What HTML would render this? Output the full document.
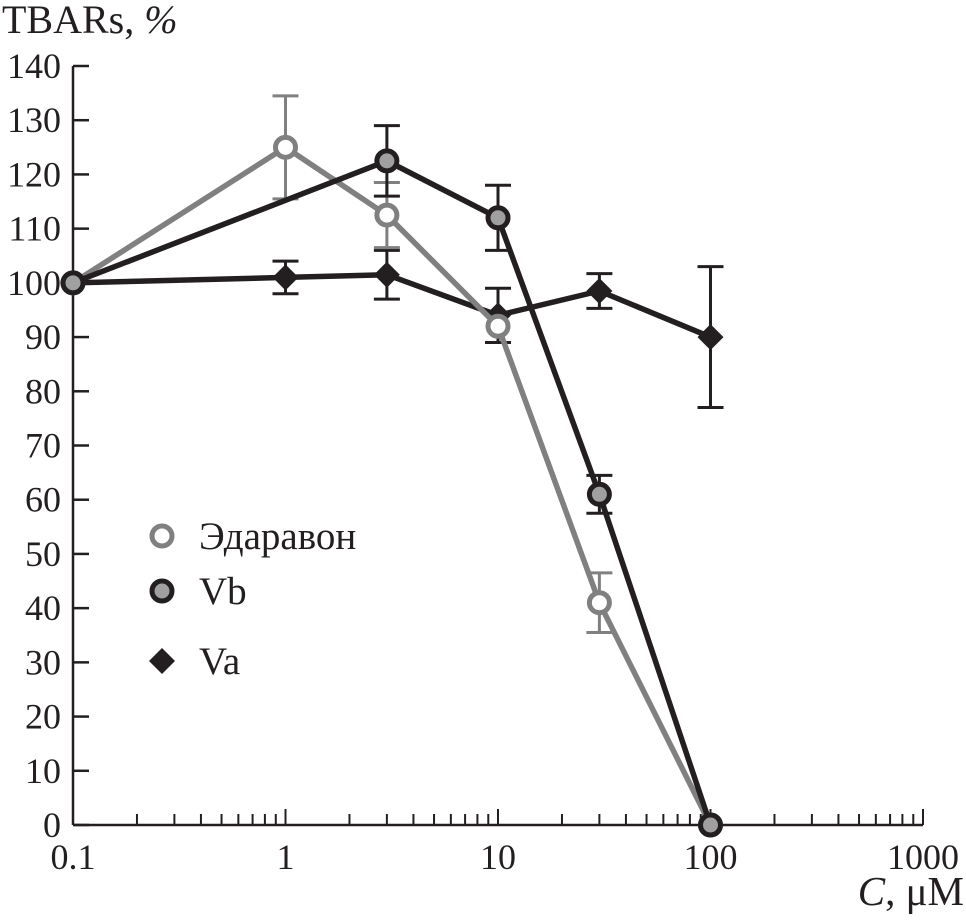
<!DOCTYPE html>
<html><head><meta charset="utf-8">
<style>
html,body{margin:0;padding:0;background:#fff;}
svg{display:block;font-family:"Liberation Serif",serif;}
</style></head>
<body>
<svg id="chart" width="966" height="923" viewBox="0 0 966 923" xmlns="http://www.w3.org/2000/svg"></svg>
<script>
const conc = [0.1, 1, 3, 10, 30, 100];
const edaravon = [100, 125, 112.5, 92, 41, 0];
const edaravonErr = [0, 9.5, 6, 0, 5.5, 0];
const vbConc = [0.1, 3, 10, 30, 100];
const vb = [100, 122.5, 112, 61, 0];
const vbErr = [0, 6.5, 6, 3.5, 0];
const va = [100, 101, 101.5, 94, 98.5, 90];
const vaErr = [0, 3, 4.5, 5, 3.2, 13];
const yTicks = [0,10,20,30,40,50,60,70,80,90,100,110,120,130,140];
const xTickLabels = ["0.1","1","10","100","1000"];
const xTickVals = [0.1,1,10,100,1000];

const NS="http://www.w3.org/2000/svg";
const svg=document.getElementById('chart');
const X0=73, DEC=212.5, Y0=825, YS=759/140;
const xs=v=>X0+DEC*Math.log10(v/0.1);
const ys=v=>Y0-v*YS;
function el(tag,attrs,parent){const e=document.createElementNS(NS,tag);for(const k in attrs)e.setAttribute(k,attrs[k]);(parent||svg).appendChild(e);return e;}

const axes=el('g',{});


const ya=el('line',{x1:X0,y1:ys(140),x2:X0,y2:Y0,stroke:'#231f20','stroke-width':2.5},axes);


const xa=el('line',{x1:X0,y1:Y0,x2:xs(1000),y2:Y0,stroke:'#231f20','stroke-width':2.5},axes);


yTicks.forEach(t=>{
  el('line',{x1:X0,y1:ys(t),x2:X0+16,y2:ys(t),stroke:'#231f20','stroke-width':2.5},axes);
  const tx=el('text',{x:X0-12,y:ys(t)+12,'text-anchor':'end','font-size':36,fill:'#231f20'},axes);
  tx.textContent=t;
  
  
});
for(let d=0;d<4;d++){for(let m=2;m<=10;m++){
  const v=0.1*Math.pow(10,d)*m;
  el('line',{x1:xs(v),y1:Y0,x2:xs(v),y2:Y0-(m===10?16:11),stroke:'#231f20','stroke-width':2},axes);
}}
xTickVals.forEach((v,i)=>{
  const tx=el('text',{x:xs(v),y:Y0+44,'text-anchor':'middle','font-size':36,fill:'#231f20'},axes);
  tx.textContent=xTickLabels[i];
  
  
});
const yt=el('text',{x:2,y:33,'font-size':40,fill:'#231f20'});
yt.innerHTML='TBARs, <tspan font-style="italic">%</tspan>';


const xt=el('text',{x:964,y:905,'text-anchor':'end','font-size':41,fill:'#231f20'});
xt.innerHTML='<tspan font-style="italic">C</tspan>, μM';



function series(name,cx,vals,errs,color,marker){
  const g=el('g',{});
  
  
  el('polyline',{points:cx.map((c,i)=>xs(c)+','+ys(vals[i])).join(' '),fill:'none',stroke:color,'stroke-width':5.5,'stroke-linejoin':'round'},g);
  cx.forEach((c,i)=>{
    if(errs[i]>0){
      const x=xs(c),y1=ys(vals[i]+errs[i]),y2=ys(vals[i]-errs[i]);
      const eg=el('g',{stroke:color,'stroke-width':3},g);
      
      
      el('line',{x1:x,y1:y1,x2:x,y2:y2},eg);
      el('line',{x1:x-13,y1:y1,x2:x+13,y2:y1},eg);
      el('line',{x1:x-13,y1:y2,x2:x+13,y2:y2},eg);
    }
  });
  cx.forEach((c,i)=>{
    const m=marker(xs(c),ys(vals[i]),g);
    
    
  });
}
const circ=(stroke,fill)=>(x,y,g)=>el('circle',{cx:x,cy:y,r:10,fill:fill,stroke:stroke,'stroke-width':5},g);
const diamond=(x,y,g)=>el('polygon',{points:`${x},${y-13} ${x+13},${y} ${x},${y+13} ${x-13},${y}`,fill:'#231f20'},g);

series('va',conc,va,vaErr,'#231f20',diamond);
series('edaravon',conc,edaravon,edaravonErr,'#808080',circ('#808080','#fff'));
series('vb',vbConc,vb,vbErr,'#231f20',circ('#231f20','#a0a0a0'));

const lg=el('g',{});


function entry(y,label,mk){
  const g=el('g',{},lg);
  
  
  mk(162,y,g);
  const t=el('text',{x:199,y:y+13,'font-size':39,fill:'#231f20'},g);
  t.textContent=label;
}
entry(536,'Эдаравон',circ('#808080','#fff'));
entry(591,'Vb',circ('#231f20','#a0a0a0'));
entry(661,'Va',diamond);
</script>
</body></html>
